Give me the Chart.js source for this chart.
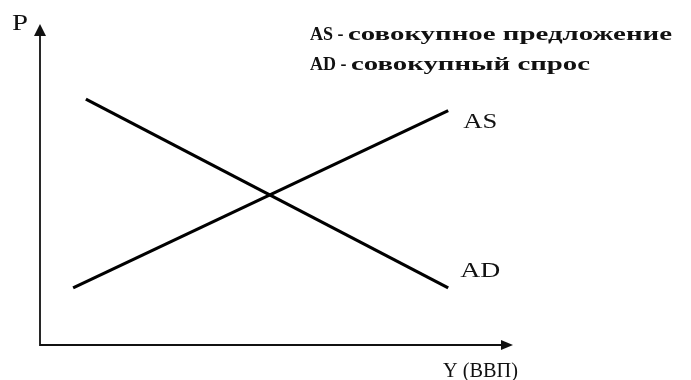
<!DOCTYPE html>
<html>
<head>
<meta charset="utf-8">
<script src="https://cdn.jsdelivr.net/npm/chart.js@4"></script>
<style>
  html, body { margin: 0; padding: 0; background: #fff; }
  #chartBox { width: 691px; height: 380px; }
</style>
</head>
<body>
<div id="chartBox"><canvas id="myChart"></canvas></div>
<script>
// curves, in axis units (both axes run 0..100)
var asX = [7, 86.3];
var asY = [17.8, 73];
var adX = [9.7, 86.3];
var adY = [76.6, 17.8];
var curveNames = ['AS', 'AD'];
var legendLines = ['AS - совокупное предложение', 'AD - совокупный спрос'];
var xTitle = 'Y (ВВП)';
var yTitle = 'P';

function toPoints(xs, ys) {
  return xs.map(function (v, i) { return { x: v, y: ys[i] }; });
}

var serif = '"Liberation Serif", "DejaVu Serif", serif';

// the scanned original uses a wide serif, so stretch text to its width
function wideText(ctx, text, x, y, width) {
  var w = ctx.measureText(text).width;
  ctx.save();
  ctx.translate(x, y);
  ctx.scale(width / w, 1);
  ctx.fillText(text, 0, 0);
  ctx.restore();
}

// axes with arrows, curve names and the text block
const economicsPlugin = {
  id: 'economics',
  afterDraw: function (chart) {
    var ctx = chart.ctx;
    var sx = chart.scales.x, sy = chart.scales.y;
    var x0 = sx.getPixelForValue(0), x1 = sx.getPixelForValue(100);
    var y0 = sy.getPixelForValue(0), y1 = sy.getPixelForValue(100);
    ctx.save();
    ctx.strokeStyle = '#111';
    ctx.fillStyle = '#111';
    ctx.lineWidth = 1.8;
    ctx.beginPath();
    ctx.moveTo(x0, y1 + 8);
    ctx.lineTo(x0, y0);
    ctx.lineTo(x1 - 8, y0);
    ctx.stroke();
    // arrow heads
    ctx.beginPath();
    ctx.moveTo(x0, y1);
    ctx.lineTo(x0 - 6, y1 + 12);
    ctx.lineTo(x0 + 6, y1 + 12);
    ctx.closePath();
    ctx.fill();
    ctx.beginPath();
    ctx.moveTo(x1, y0);
    ctx.lineTo(x1 - 12, y0 - 5);
    ctx.lineTo(x1 - 12, y0 + 5);
    ctx.closePath();
    ctx.fill();

    // axis titles
    ctx.textBaseline = 'alphabetic';
    ctx.textAlign = 'left';
    ctx.font = '24px ' + serif;
    wideText(ctx, yTitle, 12, 30, 16);
    ctx.font = '20px ' + serif;
    wideText(ctx, xTitle, x1 - 70, y0 + 32, 75);

    // curve names next to the upper right end of each line
    ctx.font = '20px ' + serif;
    var offs = [[15, 17], [12, -11]];
    var widths = [34, 40];
    chart.data.datasets.forEach(function (ds, i) {
      var pts = chart.getDatasetMeta(i).data;
      var p = pts[pts.length - 1];
      wideText(ctx, curveNames[i], p.x + offs[i][0], p.y + offs[i][1], widths[i]);
    });

    // text block: Latin prefix at natural width, Cyrillic part widened
    ctx.font = 'bold 18px ' + serif;
    var lineEnds = [672, 590];
    legendLines.forEach(function (t, i) {
      var cut = t.indexOf(' - ') + 3;
      var head = t.slice(0, cut), tail = t.slice(cut);
      var y = 40 + i * 30;
      ctx.fillText(head, 310, y);
      var hx = 310 + ctx.measureText(head).width;
      wideText(ctx, tail, hx, y, lineEnds[i] - hx);
    });
    ctx.restore();
  }
};

const config = {
  type: 'scatter',
  data: {
    datasets: [{
      label: curveNames[0],
      data: toPoints(asX, asY),
      showLine: true,
      borderColor: '#000',
      borderWidth: 3.2,
      pointRadius: 0
    }, {
      label: curveNames[1],
      data: toPoints(adX, adY),
      showLine: true,
      borderColor: '#000',
      borderWidth: 3.2,
      pointRadius: 0
    }]
  },
  options: {
    responsive: true,
    maintainAspectRatio: false,
    animation: false,
    layout: { padding: { left: 40, right: 178, top: 24, bottom: 35 } },
    scales: {
      x: { type: 'linear', min: 0, max: 100, display: false },
      y: { type: 'linear', min: 0, max: 100, display: false }
    },
    plugins: {
      legend: { display: false },
      tooltip: { enabled: false }
    }
  },
  plugins: [economicsPlugin]
};

const myChart = new Chart(document.getElementById('myChart'), config);
</script>
</body>
</html>
